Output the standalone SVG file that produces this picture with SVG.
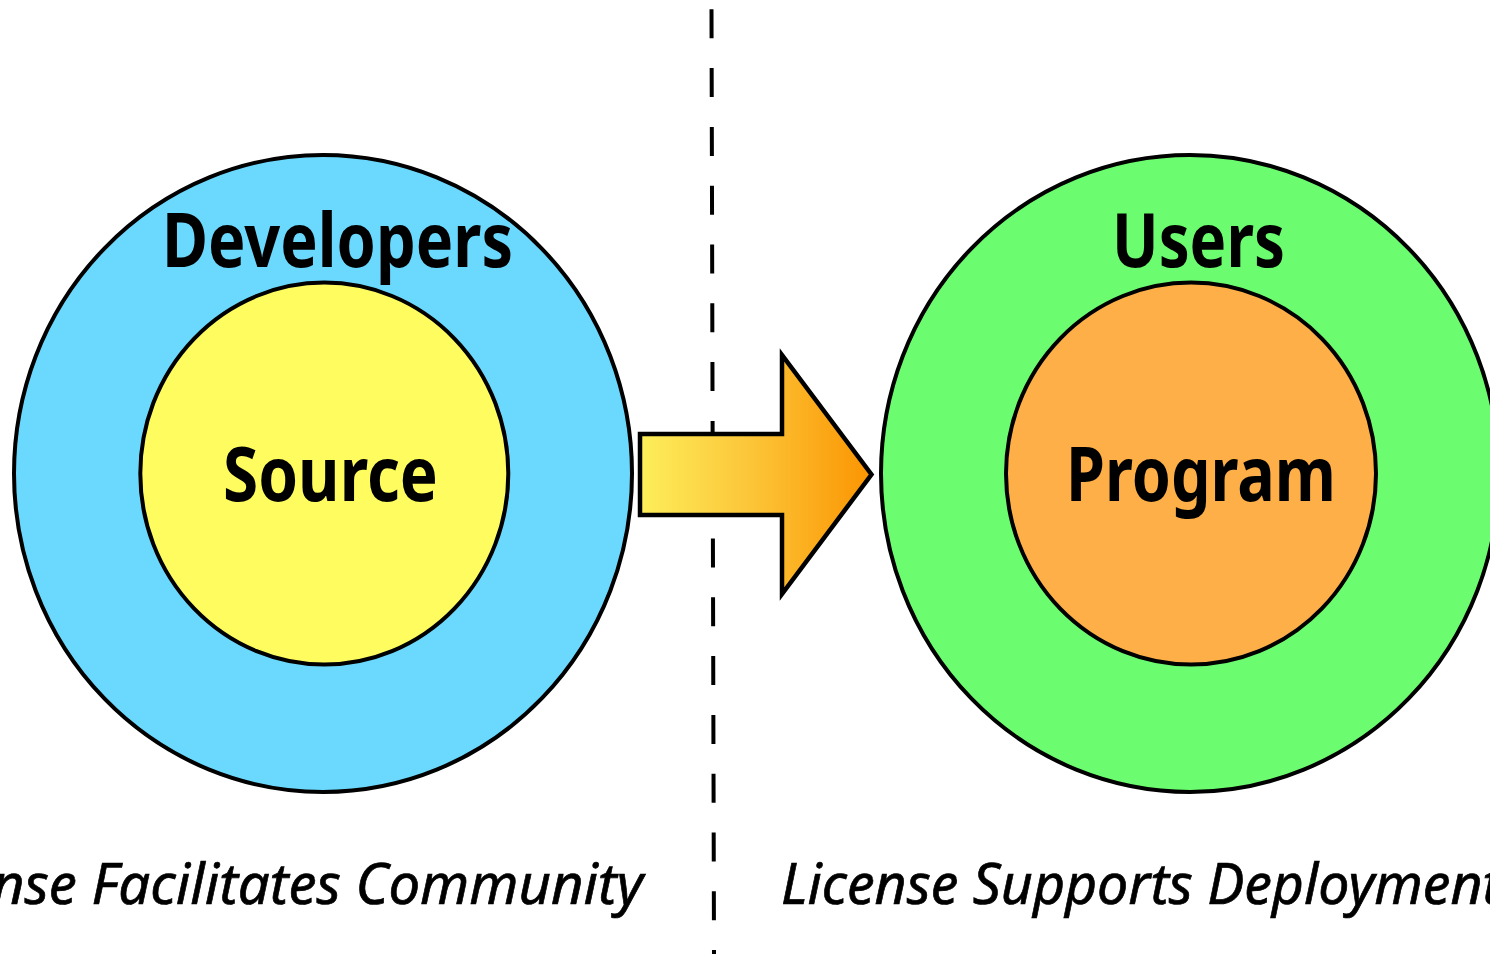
<svg xmlns="http://www.w3.org/2000/svg" width="1490" height="954" viewBox="0 0 1490 954">
  <defs>
    <linearGradient id="arrowGrad" gradientUnits="userSpaceOnUse" x1="640" y1="0" x2="875" y2="0">
      <stop offset="0" stop-color="#fdee5a"/>
      <stop offset="0.45" stop-color="#fcc73a"/>
      <stop offset="1" stop-color="#fb9300"/>
    </linearGradient>
  </defs>
  <style>
    .ring { stroke: #000; stroke-width: 4; }
    .label { font-family: "Noto Sans", "Open Sans", "DejaVu Sans", sans-serif; font-weight: bold; font-size: 75px; fill: #000; }
    .caption { font-family: "Noto Sans", "Open Sans", "DejaVu Sans", sans-serif; font-style: italic; font-size: 57px; fill: #000; stroke: #000; stroke-width: 0.7; }
    .divider { stroke: #000; stroke-width: 4; stroke-dasharray: 29 29.8; fill: none; }
  </style>
  <rect x="0" y="0" width="1490" height="954" fill="#ffffff"/>

  <g id="divider">
    <line class="divider" x1="711.5" y1="9.3" x2="714" y2="954"/>
  </g>

  <g id="node-developers">
    <ellipse class="ring" cx="323" cy="473.5" rx="309" ry="318.5" fill="#6bd9fe"/>
    <text class="label" x="162" y="267" textLength="351" lengthAdjust="spacingAndGlyphs">Developers</text>
  </g>
  <g id="node-source">
    <ellipse class="ring" cx="324.3" cy="473.6" rx="184" ry="191" fill="#fefc5e"/>
    <text class="label" x="223" y="501" textLength="215" lengthAdjust="spacingAndGlyphs">Source</text>
  </g>

  <g id="node-users">
    <ellipse class="ring" cx="1190" cy="473.5" rx="309" ry="318.5" fill="#6bfd6f"/>
    <text class="label" x="1112" y="267" textLength="173" lengthAdjust="spacingAndGlyphs">Users</text>
  </g>
  <g id="node-program">
    <ellipse class="ring" cx="1191" cy="473.6" rx="185" ry="191" fill="#feaf48"/>
    <text class="label" x="1066" y="501" textLength="270" lengthAdjust="spacingAndGlyphs">Program</text>
  </g>

  <g id="connectors">
    <polygon points="640,434 782,434 782,355 871.5,474.5 782,594 782,515 640,515" fill="url(#arrowGrad)" stroke="#000" stroke-width="4.5" stroke-linejoin="miter" stroke-miterlimit="10"/>
  </g>

  <g id="captions">
    <text class="caption" x="643" y="904" text-anchor="end" textLength="746" lengthAdjust="spacingAndGlyphs">License Facilitates Community</text>
    <text class="caption" x="781" y="904" textLength="720" lengthAdjust="spacingAndGlyphs">License Supports Deployment</text>
  </g>
</svg>
